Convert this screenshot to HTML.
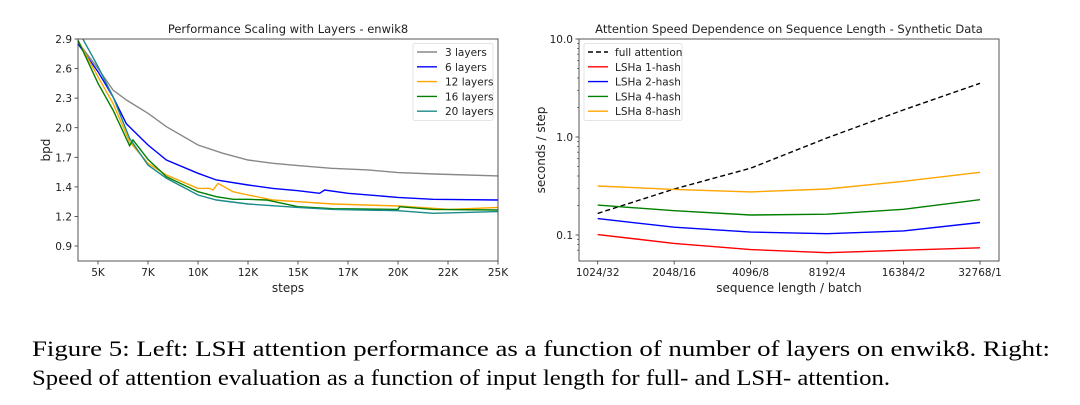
<!DOCTYPE html>
<html><head><meta charset="utf-8"><style>
body{margin:0;background:#fff}
svg{display:block}
text{font-family:"DejaVu Sans","Liberation Sans",sans-serif;fill:#222}
</style></head><body>
<svg id="s" width="1080" height="405" xmlns="http://www.w3.org/2000/svg">
<defs>
<clipPath id="cl"><rect x="78" y="39" width="420" height="222"/></clipPath>
<clipPath id="cr"><rect x="579" y="39" width="420" height="222"/></clipPath>
</defs>
<g id="left"></g>
<g id="right"></g>
<text x="32" y="356" textLength="1018" lengthAdjust="spacingAndGlyphs" style="font-family:'Liberation Serif',serif;font-size:22px;fill:#000">Figure 5: Left: LSH attention performance as a function of number of layers on enwik8. Right:</text>
<text x="32" y="385" textLength="858" lengthAdjust="spacingAndGlyphs" style="font-family:'Liberation Serif',serif;font-size:22px;fill:#000">Speed of attention evaluation as a function of input length for full- and LSH- attention.</text>
</svg>
<script>
// Left chart data
const leftNames=["3 layers","6 layers","12 layers","16 layers","20 layers"];
const leftColors=["#888888","#0000ff","#ffa500","#008000","#1a8a8a"];
const grayX=[3.98,5,5.75,6.42,7.5,8.42,10,11.25,12.5,13.75,15,16.67,18.5,20,21.83,25];
const grayY=[2.874,2.616,2.407,2.311,2.182,2.053,1.876,1.796,1.731,1.699,1.677,1.651,1.635,1.609,1.596,1.577];
const blueX=[3.98,5,5.75,6.42,7.5,8.42,10,10.92,12.5,13.75,15,16.08,16.33,17.5,20,21.75,25];
const blueY=[2.858,2.584,2.342,2.081,1.876,1.731,1.602,1.538,1.489,1.457,1.434,1.409,1.441,1.409,1.370,1.351,1.344];
const orangeX=[3.98,5,5.75,6.58,7.5,8.42,10,10.58,10.75,11,11.75,12.5,13.75,15,16.75,20,22.58,25];
const orangeY=[2.890,2.536,2.278,1.908,1.699,1.586,1.457,1.457,1.441,1.505,1.425,1.393,1.344,1.328,1.306,1.286,1.254,1.273];
const greenX=[3.98,5,5.75,6.58,6.75,7.5,8.42,10,10.92,11.75,12.5,13.42,15,16.75,20,20.08,21.75,25];
const greenY=[2.897,2.472,2.214,1.869,1.924,1.737,1.570,1.425,1.376,1.351,1.351,1.344,1.280,1.260,1.254,1.280,1.254,1.248];
const tealX=[4.25,5,5.75,6.58,7.5,8.42,10,10.92,12.5,15,16.75,20,21.75,25];
const tealY=[2.897,2.633,2.343,1.940,1.682,1.554,1.393,1.344,1.306,1.273,1.254,1.241,1.216,1.232];
const leftXTicks=[5,7.5,10,12.5,15,17.5,20,22.5,25];
const leftXLabels=["5K","7K","10K","12K","15K","17K","20K","22K","25K"];
const leftYTicks=[2.9,2.614,2.329,2.043,1.757,1.471,1.186,0.9];
const leftYLabels=["2.9","2.6","2.3","2.0","1.7","1.4","1.2","0.9"];
// Right chart data
const rightCats=["1024/32","2048/16","4096/8","8192/4","16384/2","32768/1"];
const rightNames=["full attention","LSHa 1-hash","LSHa 2-hash","LSHa 4-hash","LSHa 8-hash"];
const rightColors=["#000000","#ff0000","#0000ff","#008000","#ffa500"];
const fullAtt=[0.166,0.295,0.48,0.98,1.89,3.53];
const hash1=[0.101,0.082,0.071,0.066,0.070,0.074];
const hash2=[0.147,0.120,0.107,0.103,0.110,0.134];
const hash4=[0.202,0.177,0.160,0.163,0.183,0.229];
const hash8=[0.316,0.292,0.275,0.295,0.353,0.436];
const rightYTicks=[10,1,0.1];
const rightYLabels=["10.0","1.0","0.1"];

const NS="http://www.w3.org/2000/svg";
function mk(p,tag,at,txt){const e=document.createElementNS(NS,tag);for(const k in at)e.setAttribute(k,at[k]);if(txt!==undefined)e.textContent=txt;p.appendChild(e);return e;}

// Left axes
const L=document.getElementById('left');
const lx=v=>78+(v-4)*20, ly=v=>39+(2.9-v)/2.0*207;
let t=mk(L,'text',{x:288,y:33,'text-anchor':'middle','font-size':11.5},"Performance Scaling with Layers - enwik8");

leftXTicks.forEach((v,i)=>{const g=mk(L,'g',{});

mk(g,'line',{x1:lx(v),x2:lx(v),y1:261,y2:264.5,stroke:'#333','stroke-width':0.8});
mk(g,'text',{x:lx(v),y:276,'text-anchor':'middle','font-size':10.5},leftXLabels[i]);});
leftYTicks.forEach((v,i)=>{const g=mk(L,'g',{});

mk(g,'line',{x1:74.5,x2:78,y1:ly(v),y2:ly(v),stroke:'#333','stroke-width':0.8});
mk(g,'text',{x:72,y:ly(v)+4,'text-anchor':'end','font-size':10.5},leftYLabels[i]);});
t=mk(L,'text',{x:288,y:292,'text-anchor':'middle','font-size':12},"steps");

t=mk(L,'text',{x:50,y:150,'text-anchor':'middle','font-size':12,transform:'rotate(-90 50 150)'},"bpd");

const LG=mk(L,'g',{'clip-path':'url(#cl)'});
[[grayX,grayY],[blueX,blueY],[orangeX,orangeY],[greenX,greenY],[tealX,tealY]].forEach((s,i)=>{
 const d=s[0].map((x,j)=>(j?'L':'M')+lx(x).toFixed(1)+' '+ly(s[1][j]).toFixed(1)).join(' ');
 const p=mk(LG,'path',{d:d,fill:'none',stroke:leftColors[i],'stroke-width':1.4});
 });
mk(L,'rect',{x:78,y:39,width:420,height:222,fill:'none',stroke:'#444','stroke-width':0.9});
const LL=mk(L,'g',{});

mk(LL,'rect',{x:413,y:43.5,width:80,height:77,fill:'#fff',stroke:'#ddd','stroke-width':0.8,rx:2});
leftNames.forEach((n,i)=>{const y=52+i*14.8;
const g=mk(LL,'g',{});
mk(g,'line',{x1:417,x2:437,y1:y,y2:y,stroke:leftColors[i],'stroke-width':1.4});
mk(g,'text',{x:445,y:y+4,'font-size':10.5},n);});

// Right axes
const R=document.getElementById('right');
const rx=i=>597.7+i*76.46, ry=v=>137-Math.log10(v)*98;
t=mk(R,'text',{x:789,y:33,'text-anchor':'middle','font-size':11.5},"Attention Speed Dependence on Sequence Length - Synthetic Data");

rightCats.forEach((c,i)=>{const g=mk(R,'g',{});

mk(g,'line',{x1:rx(i),x2:rx(i),y1:261,y2:264.5,stroke:'#333','stroke-width':0.8});
mk(g,'text',{x:rx(i),y:276,'text-anchor':'middle','font-size':10.5},c);});
rightYTicks.forEach((v,i)=>{const g=mk(R,'g',{});

mk(g,'line',{x1:575.5,x2:579,y1:ry(v),y2:ry(v),stroke:'#333','stroke-width':0.8});
mk(g,'text',{x:573,y:ry(v)+4,'text-anchor':'end','font-size':10.5},rightYLabels[i]);});
[0.07,0.08,0.09,0.2,0.3,0.4,0.5,0.6,0.7,0.8,0.9,2,3,4,5,6,7,8,9].forEach(v=>{
 mk(R,'line',{x1:577,x2:579,y1:ry(v),y2:ry(v),stroke:'#333','stroke-width':0.6});});
t=mk(R,'text',{x:789,y:292,'text-anchor':'middle','font-size':12},"sequence length / batch");

t=mk(R,'text',{x:545,y:150,'text-anchor':'middle','font-size':12,transform:'rotate(-90 545 150)'},"seconds / step");

const RG=mk(R,'g',{'clip-path':'url(#cr)'});
[fullAtt,hash1,hash2,hash4,hash8].forEach((s,i)=>{
 const d=s.map((v,j)=>(j?'L':'M')+rx(j).toFixed(1)+' '+ry(v).toFixed(1)).join(' ');
 const at={d:d,fill:'none',stroke:rightColors[i],'stroke-width':1.4};
 if(i===0)at['stroke-dasharray']='5,3';
 const p=mk(RG,'path',at);
 });
mk(R,'rect',{x:579,y:39,width:420,height:222,fill:'none',stroke:'#444','stroke-width':0.9});
const RL=mk(R,'g',{});

mk(RL,'rect',{x:584,y:43.5,width:98,height:77,fill:'#fff',stroke:'#ddd','stroke-width':0.8,rx:2});
rightNames.forEach((n,i)=>{const y=52+i*14.8;
const g=mk(RL,'g',{});
const at={x1:588,x2:608,y1:y,y2:y,stroke:rightColors[i],'stroke-width':1.4};
if(i===0)at['stroke-dasharray']='5,3';
mk(g,'line',at);
mk(g,'text',{x:615,y:y+4,'font-size':10.5},n);});
</script>
</body></html>
